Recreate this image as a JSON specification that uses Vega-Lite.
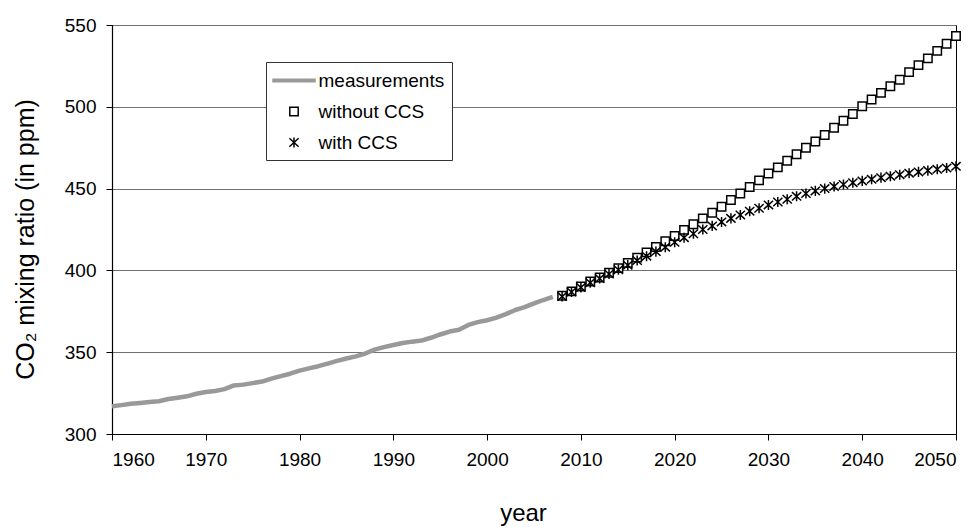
{
  "$schema": "https://vega.github.io/schema/vega-lite/v6.json",
  "width": 844,
  "height": 409,
  "autosize": "none",
  "padding": {"left": 112, "top": 25, "right": 24, "bottom": 93},
  "background": "white",
  "config": {
    "font": "Liberation Sans",
    "view": {"stroke": "black", "strokeWidth": 1},
    "axis": {
      "labelFont": "Liberation Sans",
      "titleFont": "Liberation Sans",
      "labelColor": "black",
      "titleColor": "black",
      "labelFontSize": 19,
      "titleFontSize": 24,
      "titleFontWeight": "normal",
      "domainColor": "black",
      "domainWidth": 1.2,
      "tickColor": "black",
      "tickWidth": 1,
      "tickSize": 6
    },
    "legend": {
      "labelFont": "Liberation Sans",
      "labelFontSize": 19,
      "labelColor": "black",
      "orient": "none",
      "legendX": 154,
      "legendY": 37,
      "padding": 7,
      "rowPadding": 9,
      "labelOffset": 13,
      "symbolOffset": 9.5,
      "symbolSize": 441,
      "strokeColor": "#333333",
      "fillColor": "white",
      "symbolStrokeWidth": 1.5
    }
  },
  "data": {
    "values": [
      {"year": 1960, "co2": 316.91, "series": "measurements"},
      {"year": 1961, "co2": 317.64, "series": "measurements"},
      {"year": 1962, "co2": 318.45, "series": "measurements"},
      {"year": 1963, "co2": 318.99, "series": "measurements"},
      {"year": 1964, "co2": 319.62, "series": "measurements"},
      {"year": 1965, "co2": 320.04, "series": "measurements"},
      {"year": 1966, "co2": 321.38, "series": "measurements"},
      {"year": 1967, "co2": 322.16, "series": "measurements"},
      {"year": 1968, "co2": 323.04, "series": "measurements"},
      {"year": 1969, "co2": 324.62, "series": "measurements"},
      {"year": 1970, "co2": 325.68, "series": "measurements"},
      {"year": 1971, "co2": 326.32, "series": "measurements"},
      {"year": 1972, "co2": 327.45, "series": "measurements"},
      {"year": 1973, "co2": 329.68, "series": "measurements"},
      {"year": 1974, "co2": 330.18, "series": "measurements"},
      {"year": 1975, "co2": 331.11, "series": "measurements"},
      {"year": 1976, "co2": 332.04, "series": "measurements"},
      {"year": 1977, "co2": 333.83, "series": "measurements"},
      {"year": 1978, "co2": 335.40, "series": "measurements"},
      {"year": 1979, "co2": 336.84, "series": "measurements"},
      {"year": 1980, "co2": 338.75, "series": "measurements"},
      {"year": 1981, "co2": 340.11, "series": "measurements"},
      {"year": 1982, "co2": 341.45, "series": "measurements"},
      {"year": 1983, "co2": 343.05, "series": "measurements"},
      {"year": 1984, "co2": 344.65, "series": "measurements"},
      {"year": 1985, "co2": 346.12, "series": "measurements"},
      {"year": 1986, "co2": 347.42, "series": "measurements"},
      {"year": 1987, "co2": 349.19, "series": "measurements"},
      {"year": 1988, "co2": 351.57, "series": "measurements"},
      {"year": 1989, "co2": 353.12, "series": "measurements"},
      {"year": 1990, "co2": 354.39, "series": "measurements"},
      {"year": 1991, "co2": 355.61, "series": "measurements"},
      {"year": 1992, "co2": 356.45, "series": "measurements"},
      {"year": 1993, "co2": 357.10, "series": "measurements"},
      {"year": 1994, "co2": 358.83, "series": "measurements"},
      {"year": 1995, "co2": 360.82, "series": "measurements"},
      {"year": 1996, "co2": 362.61, "series": "measurements"},
      {"year": 1997, "co2": 363.73, "series": "measurements"},
      {"year": 1998, "co2": 366.70, "series": "measurements"},
      {"year": 1999, "co2": 368.38, "series": "measurements"},
      {"year": 2000, "co2": 369.55, "series": "measurements"},
      {"year": 2001, "co2": 371.14, "series": "measurements"},
      {"year": 2002, "co2": 373.28, "series": "measurements"},
      {"year": 2003, "co2": 375.80, "series": "measurements"},
      {"year": 2004, "co2": 377.52, "series": "measurements"},
      {"year": 2005, "co2": 379.80, "series": "measurements"},
      {"year": 2006, "co2": 381.90, "series": "measurements"},
      {"year": 2007, "co2": 383.79, "series": "measurements"},
      {"year": 2008, "co2": 384.5, "series": "without CCS"},
      {"year": 2009, "co2": 387.2, "series": "without CCS"},
      {"year": 2010, "co2": 390.2, "series": "without CCS"},
      {"year": 2011, "co2": 393.2, "series": "without CCS"},
      {"year": 2012, "co2": 395.7, "series": "without CCS"},
      {"year": 2013, "co2": 398.6, "series": "without CCS"},
      {"year": 2014, "co2": 401.4, "series": "without CCS"},
      {"year": 2015, "co2": 404.5, "series": "without CCS"},
      {"year": 2016, "co2": 407.8, "series": "without CCS"},
      {"year": 2017, "co2": 411.0, "series": "without CCS"},
      {"year": 2018, "co2": 414.3, "series": "without CCS"},
      {"year": 2019, "co2": 417.8, "series": "without CCS"},
      {"year": 2020, "co2": 421.0, "series": "without CCS"},
      {"year": 2021, "co2": 424.8, "series": "without CCS"},
      {"year": 2022, "co2": 428.2, "series": "without CCS"},
      {"year": 2023, "co2": 431.8, "series": "without CCS"},
      {"year": 2024, "co2": 435.2, "series": "without CCS"},
      {"year": 2025, "co2": 438.9, "series": "without CCS"},
      {"year": 2026, "co2": 443.0, "series": "without CCS"},
      {"year": 2027, "co2": 447.0, "series": "without CCS"},
      {"year": 2028, "co2": 451.0, "series": "without CCS"},
      {"year": 2029, "co2": 455.0, "series": "without CCS"},
      {"year": 2030, "co2": 459.2, "series": "without CCS"},
      {"year": 2031, "co2": 463.0, "series": "without CCS"},
      {"year": 2032, "co2": 467.0, "series": "without CCS"},
      {"year": 2033, "co2": 471.0, "series": "without CCS"},
      {"year": 2034, "co2": 475.0, "series": "without CCS"},
      {"year": 2035, "co2": 478.8, "series": "without CCS"},
      {"year": 2036, "co2": 482.8, "series": "without CCS"},
      {"year": 2037, "co2": 487.2, "series": "without CCS"},
      {"year": 2038, "co2": 491.5, "series": "without CCS"},
      {"year": 2039, "co2": 495.6, "series": "without CCS"},
      {"year": 2040, "co2": 500.3, "series": "without CCS"},
      {"year": 2041, "co2": 504.5, "series": "without CCS"},
      {"year": 2042, "co2": 508.5, "series": "without CCS"},
      {"year": 2043, "co2": 512.6, "series": "without CCS"},
      {"year": 2044, "co2": 516.5, "series": "without CCS"},
      {"year": 2045, "co2": 521.2, "series": "without CCS"},
      {"year": 2046, "co2": 525.5, "series": "without CCS"},
      {"year": 2047, "co2": 529.6, "series": "without CCS"},
      {"year": 2048, "co2": 534.2, "series": "without CCS"},
      {"year": 2049, "co2": 538.5, "series": "without CCS"},
      {"year": 2050, "co2": 543.3, "series": "without CCS"},
      {"year": 2008, "co2": 384.0, "series": "with CCS"},
      {"year": 2009, "co2": 386.8, "series": "with CCS"},
      {"year": 2010, "co2": 389.6, "series": "with CCS"},
      {"year": 2011, "co2": 392.5, "series": "with CCS"},
      {"year": 2012, "co2": 395.0, "series": "with CCS"},
      {"year": 2013, "co2": 397.8, "series": "with CCS"},
      {"year": 2014, "co2": 400.4, "series": "with CCS"},
      {"year": 2015, "co2": 403.2, "series": "with CCS"},
      {"year": 2016, "co2": 406.0, "series": "with CCS"},
      {"year": 2017, "co2": 408.7, "series": "with CCS"},
      {"year": 2018, "co2": 411.5, "series": "with CCS"},
      {"year": 2019, "co2": 414.2, "series": "with CCS"},
      {"year": 2020, "co2": 417.2, "series": "with CCS"},
      {"year": 2021, "co2": 420.0, "series": "with CCS"},
      {"year": 2022, "co2": 422.4, "series": "with CCS"},
      {"year": 2023, "co2": 425.0, "series": "with CCS"},
      {"year": 2024, "co2": 427.2, "series": "with CCS"},
      {"year": 2025, "co2": 429.6, "series": "with CCS"},
      {"year": 2026, "co2": 431.8, "series": "with CCS"},
      {"year": 2027, "co2": 433.9, "series": "with CCS"},
      {"year": 2028, "co2": 436.2, "series": "with CCS"},
      {"year": 2029, "co2": 438.0, "series": "with CCS"},
      {"year": 2030, "co2": 440.0, "series": "with CCS"},
      {"year": 2031, "co2": 441.8, "series": "with CCS"},
      {"year": 2032, "co2": 443.5, "series": "with CCS"},
      {"year": 2033, "co2": 445.3, "series": "with CCS"},
      {"year": 2034, "co2": 447.0, "series": "with CCS"},
      {"year": 2035, "co2": 448.6, "series": "with CCS"},
      {"year": 2036, "co2": 450.0, "series": "with CCS"},
      {"year": 2037, "co2": 451.3, "series": "with CCS"},
      {"year": 2038, "co2": 452.5, "series": "with CCS"},
      {"year": 2039, "co2": 453.6, "series": "with CCS"},
      {"year": 2040, "co2": 454.7, "series": "with CCS"},
      {"year": 2041, "co2": 455.7, "series": "with CCS"},
      {"year": 2042, "co2": 456.7, "series": "with CCS"},
      {"year": 2043, "co2": 457.6, "series": "with CCS"},
      {"year": 2044, "co2": 458.5, "series": "with CCS"},
      {"year": 2045, "co2": 459.4, "series": "with CCS"},
      {"year": 2046, "co2": 460.2, "series": "with CCS"},
      {"year": 2047, "co2": 461.0, "series": "with CCS"},
      {"year": 2048, "co2": 461.8, "series": "with CCS"},
      {"year": 2049, "co2": 462.6, "series": "with CCS"},
      {"year": 2050, "co2": 463.6, "series": "with CCS"}
    ]
  },
  "encoding": {
    "x": {
      "field": "year",
      "type": "quantitative",
      "scale": {"domain": [1960, 2050], "nice": false, "zero": false},
      "axis": {
        "title": "year",
        "values": [1960, 1970, 1980, 1990, 2000, 2010, 2020, 2030, 2040, 2050],
        "format": "d",
        "grid": false,
        "labelPadding": 10,
        "titleX": 411,
        "titleY": 86,
        "titleAlign": "center",
        "titleBaseline": "alphabetic"
      }
    },
    "y": {
      "field": "co2",
      "type": "quantitative",
      "scale": {"domain": [300, 550], "nice": false, "zero": false},
      "axis": {
        "title": "CO₂ mixing ratio (in ppm)",
        "values": [300, 350, 400, 450, 500, 550],
        "grid": true,
        "gridColor": "#707070",
        "gridWidth": 1,
        "gridOpacity": 1,
        "labelPadding": 10,
        "titleFontSize": 25,
        "titleX": -87,
        "titleY": 214,
        "titleAngle": -90,
        "titleAlign": "center",
        "titleBaseline": "middle"
      }
    }
  },
  "layer": [
    {
      "transform": [{"filter": "datum.series === 'measurements'"}],
      "mark": {"type": "line", "strokeWidth": 4.5, "strokeJoin": "round", "strokeCap": "butt"},
      "encoding": {
        "stroke": {
          "field": "series",
          "type": "nominal",
          "title": null,
          "scale": {"domain": ["measurements", "without CCS", "with CCS"], "range": ["#999999", "black", "black"]}
        }
      }
    },
    {
      "transform": [{"filter": "datum.series !== 'measurements'"}],
      "mark": {"type": "point", "filled": false, "opacity": 1, "size": 441, "strokeWidth": 1.5},
      "encoding": {
        "shape": {
          "field": "series",
          "type": "nominal",
          "title": null,
          "scale": {
            "domain": ["measurements", "without CCS", "with CCS"],
            "range": [
              "M-2,-0.12L2,-0.12L2,0.12L-2,0.12Z",
              "M-0.4,-0.4L0.4,-0.4L0.4,0.4L-0.4,0.4Z",
              "M-0.44,-0.4L0.44,0.4M-0.44,0.4L0.44,-0.4M0,-0.48L0,0.48"
            ]
          },
          "legend": {"rowPadding": 9, "labelOffset": 13, "symbolOffset": 9.5, "symbolSize": 441}
        },
        "stroke": {
          "field": "series",
          "type": "nominal",
          "title": null,
          "scale": {"domain": ["measurements", "without CCS", "with CCS"], "range": ["#999999", "black", "black"]}
        },
        "fill": {
          "field": "series",
          "type": "nominal",
          "title": null,
          "scale": {"domain": ["measurements", "without CCS", "with CCS"], "range": ["#999999", "white", "transparent"]}
        }
      }
    }
  ]
}
